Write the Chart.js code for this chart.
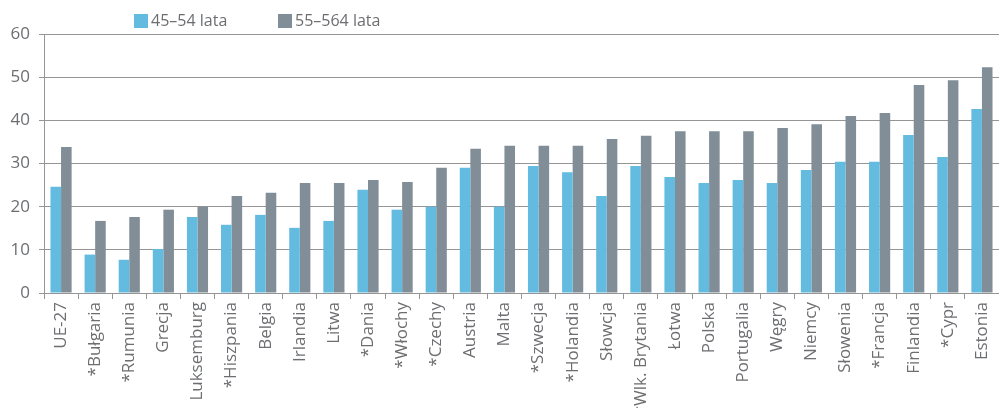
<!DOCTYPE html>
<html lang="pl">
<head>
<meta charset="utf-8">
<script src="https://cdn.jsdelivr.net/npm/chart.js@4/dist/chart.umd.min.js"></script>
<style>
  body { margin: 0; background: #fff; }
  #wrap { position: relative; width: 999px; height: 408px; }
  #legend { position: absolute; top: 10px; left: 0; font-family: "Open Sans", sans-serif; font-size: 16px; color: #6d6e71; }
  .item { position: absolute; top: 0; white-space: nowrap; line-height: 20px; }
  .box { display: inline-block; width: 14px; height: 14px; vertical-align: -2px; margin-right: 3px; }
</style>
</head>
<body>
<div id="wrap">
  <canvas id="chart" width="999" height="408"></canvas>
  <div id="legend"></div>
</div>
<script>
// Dane
const countries = ['UE-27', '*Bułgaria', '*Rumunia', 'Grecja', 'Luksemburg', '*Hiszpania', 'Belgia', 'Irlandia',
  'Litwa', '*Dania', '*Włochy', '*Czechy', 'Austria', 'Malta', '*Szwecja', '*Holandia', 'Słowcja',
  '*Wlk. Brytania', 'Łotwa', 'Polska', 'Portugalia', 'Węgry', 'Niemcy', 'Słowenia', '*Francja',
  'Finlandia', '*Cypr', 'Estonia'];
const seriesNames = ['45–54 lata', '55–564 lata'];
const age4554 = [24.6, 8.9, 7.7, 10.2, 17.6, 15.8, 18.1, 15.1, 16.7, 23.9, 19.3, 20.0, 29.0, 20.0,
  29.4, 28.0, 22.5, 29.4, 26.9, 25.5, 26.2, 25.5, 28.5, 30.4, 30.4, 36.6, 31.5, 42.6];
const age5564 = [33.8, 16.7, 17.6, 19.3, 20.0, 22.5, 23.2, 25.5, 25.5, 26.2, 25.7, 29.0, 33.4, 34.1,
  34.1, 34.1, 35.7, 36.4, 37.5, 37.5, 37.5, 38.2, 39.1, 41.0, 41.7, 48.2, 49.3, 52.3];
const yTicks = [0, 10, 20, 30, 40, 50, 60];

const colors = ['#63bbe0', '#818e97'];
const textColor = '#6d6e71';
const gridColor = '#959595';

// Legenda
const legend = document.getElementById('legend');
const legendX = [134, 278];
seriesNames.forEach((name, i) => {
  const item = document.createElement('div');
  item.className = 'item';
  item.style.left = legendX[i] + 'px';
  item.innerHTML = `<span class="box" style="background:${colors[i]}"></span>${name}`;
  legend.appendChild(item);
});

const ctx = document.getElementById('chart').getContext('2d');
new Chart(ctx, {
  type: 'bar',
  data: {
    labels: countries,
    datasets: [
      { label: seriesNames[0], data: age4554, backgroundColor: colors[0] },
      { label: seriesNames[1], data: age5564, backgroundColor: colors[1] }
    ]
  },
  options: {
    responsive: false,
    animation: false,
    layout: { padding: { top: 34, right: 0, left: 0, bottom: 0 } },
    datasets: { bar: { categoryPercentage: 0.62, barPercentage: 1 } },
    plugins: { legend: { display: false }, tooltip: { enabled: false } },
    scales: {
      x: {
        offset: true,
        grid: { offset: true, drawOnChartArea: false, color: gridColor, tickLength: 6 },
        border: { color: gridColor },
        ticks: {
          minRotation: 90, maxRotation: 90, autoSkip: false, padding: 3,
          color: textColor, font: { family: 'Open Sans', size: 17 }
        },
        afterFit: scale => {
          scale.height = 115;
          scale.paddingLeft = 0;
          scale.paddingRight = 0;
        }
      },
      y: {
        min: 0, max: 60,
        afterBuildTicks: scale => { scale.ticks = yTicks.map(v => ({ value: v })); },
        grid: { color: gridColor, tickLength: 5 },
        border: { color: gridColor },
        ticks: { padding: 9, color: textColor, font: { family: 'Open Sans', size: 17 } },
        afterFit: scale => { scale.width = 44; }
      }
    }
  }
});
</script>
</body>
</html>
